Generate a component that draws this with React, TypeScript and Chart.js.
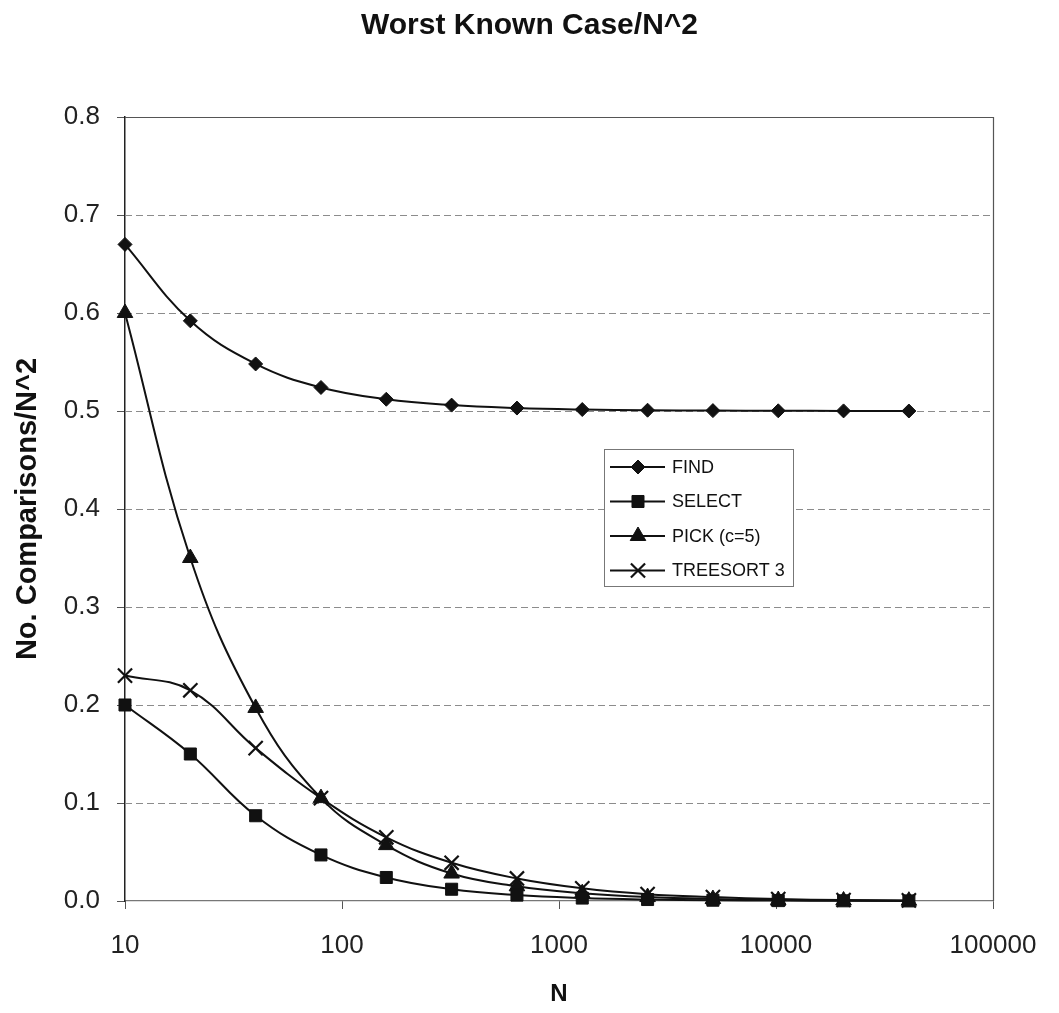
import React, { useEffect, useRef } from 'react';
import { Chart, registerables } from 'chart.js';
import { drawPoint } from 'chart.js/helpers';

Chart.register(...registerables);

const N_VALUES = [10, 20, 40, 80, 160, 320, 640, 1280, 2560, 5120, 10240, 20480, 40960];
const FIND = [0.67, 0.592, 0.548, 0.524, 0.512, 0.506, 0.503, 0.5015, 0.5008, 0.5004, 0.5002, 0.5001, 0.5];
const SELECT = [0.2, 0.15, 0.087, 0.047, 0.024, 0.012, 0.006, 0.003, 0.0015, 0.0008, 0.0004, 0.0002, 0.0001];
const PICK = [0.6, 0.35, 0.197, 0.105, 0.057, 0.028, 0.015, 0.008, 0.004, 0.002, 0.001, 0.0005, 0.0003];
const TREESORT = [0.23, 0.215, 0.156, 0.105, 0.065, 0.039, 0.023, 0.013, 0.007, 0.004, 0.002, 0.001, 0.0006];
const SERIES_LABELS = ['FIND', 'SELECT', 'PICK (c=5)', 'TREESORT 3'];
const X_TICKS = [10, 100, 1000, 10000, 100000];
const Y_GRID = [0.1, 0.2, 0.3, 0.4, 0.5, 0.6, 0.7];
const TITLE = 'Worst Known Case/N^2';
const X_TITLE = 'N';
const Y_TITLE = 'No. Comparisons/N^2';

const FONT = "'Liberation Sans', Arial, sans-serif";

const titlePlugin = {
  id: 'pageTitle',
  afterDraw(chart: any) {
    const { ctx, width } = chart;
    ctx.save();
    ctx.fillStyle = '#111';
    ctx.font = `bold 30px ${FONT}`;
    ctx.textAlign = 'center';
    ctx.textBaseline = 'middle';
    ctx.fillText(TITLE, width / 2, 26);
    ctx.restore();
  },
};

const gridPlugin = {
  id: 'excelGrid',
  beforeDatasetsDraw(chart: any) {
    const { ctx, chartArea, scales } = chart;
    const { left, right, top, bottom } = chartArea;
    const y = scales.y;
    ctx.save();
    ctx.strokeStyle = '#8c8c8c';
    ctx.lineWidth = 1;
    ctx.setLineDash([7, 4]);
    for (const v of Y_GRID) {
      const py = Math.round(y.getPixelForValue(v)) + 0.5;
      ctx.beginPath();
      ctx.moveTo(left, py);
      ctx.lineTo(right, py);
      ctx.stroke();
    }
    ctx.setLineDash([]);
    ctx.strokeStyle = '#555';
    ctx.lineWidth = 1.2;
    ctx.beginPath();
    ctx.moveTo(left, top + 0.5);
    ctx.lineTo(right + 0.5, top + 0.5);
    ctx.lineTo(right + 0.5, bottom);
    ctx.stroke();
    ctx.restore();
  },
};

const legendPlugin = {
  id: 'excelLegend',
  afterDatasetsDraw(chart: any) {
    const { ctx } = chart;
    const boxL = 604, boxT = 449, boxW = 189, boxH = 137;
    const rowY0 = 467, rowStep = 34.5;
    ctx.save();
    ctx.fillStyle = '#ffffff';
    ctx.fillRect(boxL, boxT, boxW, boxH);
    ctx.strokeStyle = '#777';
    ctx.lineWidth = 1;
    ctx.strokeRect(boxL + 0.5, boxT + 0.5, boxW, boxH);
    chart.data.datasets.forEach((ds: any, i: number) => {
      const ry = rowY0 + i * rowStep;
      ctx.strokeStyle = '#111';
      ctx.lineWidth = 2;
      ctx.beginPath();
      ctx.moveTo(610, ry);
      ctx.lineTo(665, ry);
      ctx.stroke();
      ctx.fillStyle = '#111';
      ctx.strokeStyle = '#111';
      ctx.lineWidth = ds.pointBorderWidth;
      drawPoint(ctx, { pointStyle: ds.pointStyle, radius: ds.pointRadius, rotation: 0, borderWidth: ds.pointBorderWidth }, 638, ry);
      ctx.fillStyle = '#111';
      ctx.font = `18px ${FONT}`;
      ctx.textBaseline = 'middle';
      ctx.textAlign = 'left';
      ctx.fillText(ds.label, 672, ry + 1);
    });
    ctx.restore();
  },
};

function makeDataset(label: string, values: number[], pointStyle: string, radius: number) {
  return {
    label,
    data: N_VALUES.map((n, i) => ({ x: n, y: values[i] })),
    borderColor: '#111',
    backgroundColor: '#111',
    borderWidth: 2,
    pointStyle,
    pointRadius: radius,
    pointBorderWidth: pointStyle === 'crossRot' ? 2.2 : 1,
    pointBackgroundColor: '#111',
    pointBorderColor: '#111',
    tension: 0.4,
    clip: false,
  };
}

export default function App() {
  const canvasRef = useRef<HTMLCanvasElement | null>(null);

  useEffect(() => {
    const canvas = canvasRef.current;
    if (!canvas) return;
    const chart = new Chart(canvas, {
      type: 'line',
      data: {
        datasets: [
          makeDataset(SERIES_LABELS[0], FIND, 'rectRot', 7),
          makeDataset(SERIES_LABELS[1], SELECT, 'rect', 8.5),
          makeDataset(SERIES_LABELS[2], PICK, 'triangle', 9),
          makeDataset(SERIES_LABELS[3], TREESORT, 'crossRot', 10),
        ],
      },
      options: {
        responsive: false,
        animation: false,
        devicePixelRatio: 1,
        layout: { padding: { left: 0, right: 66, top: 117, bottom: 0 } },
        plugins: {
          legend: { display: false },
          tooltip: { enabled: false },
          title: { display: false },
        },
        scales: {
          x: {
            type: 'logarithmic',
            min: 10,
            max: 100000,
            afterBuildTicks: (scale: any) => {
              scale.ticks = X_TICKS.map((v) => ({ value: v }));
            },
            afterFit: (scale: any) => {
              scale.height = 112;
            },
            ticks: {
              autoSkip: false,
              maxRotation: 0,
              color: '#222',
              padding: 21,
              font: { family: FONT, size: 26 },
              callback: (v: any) => String(v),
            },
            grid: { drawOnChartArea: false, drawTicks: true, tickLength: 8, color: '#555' },
            border: { display: true, color: '#777', width: 1.2 },
            title: {
              display: true,
              text: X_TITLE,
              color: '#111',
              font: { family: FONT, size: 24, weight: 'bold' },
              padding: { top: 0, bottom: 4 },
            },
          },
          y: {
            type: 'linear',
            min: 0,
            max: 0.8,
            afterFit: (scale: any) => {
              scale.width = 125;
            },
            ticks: {
              stepSize: 0.1,
              color: '#222',
              padding: 17,
              font: { family: FONT, size: 26 },
              callback: (v: any) => Number(v).toFixed(1),
            },
            grid: { drawOnChartArea: false, drawTicks: true, tickLength: 8, color: '#555' },
            border: { display: true, color: '#222', width: 1.5 },
            title: {
              display: true,
              text: Y_TITLE,
              color: '#111',
              font: { family: FONT, size: 29, weight: 'bold' },
              padding: { top: 11, bottom: 0 },
            },
          },
        },
      },
      plugins: [gridPlugin, legendPlugin, titlePlugin],
    } as any);
    return () => chart.destroy();
  }, []);

  return (
    <div style={{ position: 'absolute', left: 0, top: 0, width: 1059, height: 1013, background: '#fff' }}>
      <canvas ref={canvasRef} width={1059} height={1013} />
    </div>
  );
}
